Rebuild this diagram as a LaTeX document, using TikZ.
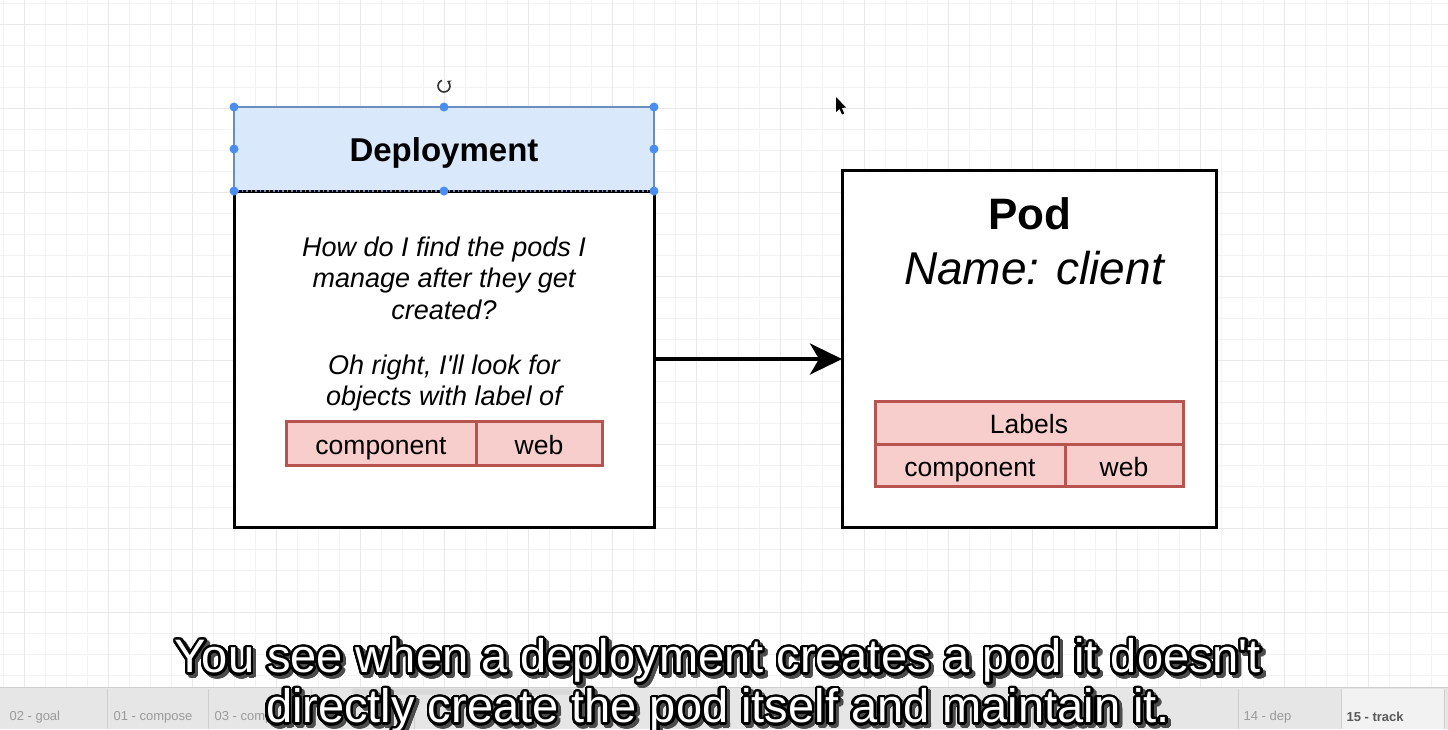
\documentclass[tikz,border=0pt]{standalone}
\usepackage{fontspec}
\setmainfont{Liberation Sans}[Ligatures=TeXOff]
\usepackage{contour}
\contourlength{2.5pt}
\contournumber{32}
\usetikzlibrary{arrows.meta}
\definecolor{gridminor}{HTML}{F3F3F3}
\definecolor{gridmajor}{HTML}{E8E8E8}
\definecolor{hdrfill}{HTML}{DAE8FC}
\definecolor{hdrline}{HTML}{6C8EBF}
\definecolor{handle}{HTML}{4A8EF0}
\definecolor{lblfill}{HTML}{F8CECC}
\definecolor{lblline}{HTML}{B85450}
\definecolor{tabbg}{HTML}{E6E6E6}
\definecolor{tabactive}{HTML}{F2F2F2}
\definecolor{tabtext}{HTML}{9A9A9A}
\definecolor{tabsep}{HTML}{CFCFCF}
\tikzset{
  box/.style={draw=black, line width=3pt, fill=white, inner sep=0pt, outer sep=0pt},
  hdrbox/.style={draw=hdrline, line width=2.5pt, fill=hdrfill, inner sep=0pt, outer sep=0pt,
    text height=26pt, text depth=2pt},
  lblcell/.style={draw=lblline, line width=3pt, fill=lblfill, inner sep=0pt, outer sep=0pt,
    font=\fontsize{26.5}{30}\selectfont, text height=23.5pt, text depth=1pt},
  qtext/.style={align=center, font=\fontsize{27}{31.5}\selectfont\itshape},
  handledot/.style={circle, fill=handle, minimum size=9pt, inner sep=0pt},
  arr/.style={line width=4pt, -{Stealth[length=32pt, width=31pt, inset=9pt]}},
  tablabel/.style={anchor=west, text=tabtext, font=\fontsize{13}{15}\selectfont},
  subt/.style={align=center, text=white, font=\fontsize{47}{50}\selectfont},
}
\begin{document}
\begin{tikzpicture}[x=1pt, y=-1pt]
\useasboundingbox (0,0) rectangle (1448,729);
\fill[white] (0,0) rectangle (1448,729);
% grid
\begin{scope}
\clip (0,0) rectangle (1448,687);
\foreach \k in {0,...,69} {
  \draw[gridminor, line width=1pt] ({3+21*\k},0) -- ({3+21*\k},687);
}
\foreach \k in {0,...,33} {
  \draw[gridminor, line width=1pt] (0,{3+21*\k}) -- (1448,{3+21*\k});
}
\foreach \k in {0,...,17} {
  \draw[gridmajor, line width=1pt] ({24+84*\k},0) -- ({24+84*\k},687);
}
\foreach \k in {0,...,8} {
  \draw[gridmajor, line width=1pt] (0,{24+84*\k}) -- (1448,{24+84*\k});
}
\end{scope}

% Deployment
\node[box, minimum width=420pt, minimum height=336pt] (depbody) at (444,359) {};
\node[hdrbox, minimum width=420pt, minimum height=84pt,
      font=\fontsize{33}{38}\selectfont\bfseries] (dephdr) at (444,149) {Deployment};
\draw[black, line width=2.5pt, dash pattern=on 3pt off 1.5pt]
  (dephdr.south west) -- (dephdr.south east);
\node[qtext] (q1) at (444,278) {How do I find the pods I\\manage after they get\\created?};
\node[qtext] (q2) at (444,383) {Oh right, I'll look for\\objects with label of};
\node[lblcell, minimum width=190pt, minimum height=44pt] (dcomp) at (381,443) {component};
\node[lblcell, minimum width=126pt, minimum height=44pt] (dweb) at (539,443) {web};

% selection handles
\foreach \p [count=\i] in {dephdr.north west, dephdr.north, dephdr.north east,
  dephdr.west, dephdr.east, dephdr.south west, dephdr.south, dephdr.south east} {
  \node[handledot] (h\i) at (\p) {};
}
% rotation icon
\coordinate (rot) at (444,86);
\draw[black!80, line width=1.6pt, -{Stealth[length=4pt,width=5pt]}]
  ([shift={(110:6pt)}]rot) arc[start angle=110, end angle=420, radius=6pt];

% Pod
\node[box, minimum width=374pt, minimum height=357pt] (pod) at (1029,348.5) {};
\node[font=\fontsize{44}{50}\selectfont\bfseries] (podtitle) at (1030,214) {Pod};
\node[font=\fontsize{46}{52}\selectfont\itshape] (podname) at (1034,268) {Name: client};
\node[lblcell, minimum width=308pt, minimum height=43pt] (plabels) at (1029,422.5) {Labels};
\node[lblcell, minimum width=190pt, minimum height=42pt] (pcomp) at (970,465) {component};
\node[lblcell, minimum width=118pt, minimum height=42pt] (pweb) at (1124,465) {web};

% arrow
\draw[arr] (depbody.east) -- (depbody.east -| pod.west);

% mouse cursor
\fill[black] (836,97) -- (836,112) -- (839.5,108.8) -- (842,114.5) -- (844.2,113.5)
  -- (841.8,108) -- (846,107.5) -- cycle;

% tab bar
\fill[tabbg] (0,687) rectangle (1448,729);
\draw[tabsep, line width=1pt] (0,687.5) -- (1448,687.5);
\fill[tabactive] (1341,689) rectangle (1444,729);
\foreach \s in {107,208,311,414,517,620,723,826,929,1032,1135,1238,1341,1444} {
  \draw[tabsep, line width=1pt] (\s,689) -- (\s,729);
}
\fill[black!15, rounded corners=2pt] (352,688.5) rectangle (572,694.5);
\node[tablabel] (t1) at (6,717) {02 - goal};
\node[tablabel] (t2) at (110,717) {01 - compose};
\node[tablabel] (t3) at (211,717) {03 - comp};
\node[tablabel] (t14) at (1240,717) {14 - dep};
\node[tablabel, text=black!65, font=\fontsize{13}{15}\selectfont\bfseries] (t15) at (1343,717) {15 - track};

% subtitle
\node[subt, text=black!70] (subshadow) at (721,690)
  {\contour{black!70}{You see when a deployment creates a pod it doesn't}\\
   \contour{black!70}{directly create the pod itself and maintain it.}};
\node[subt] (subtitle) at (718,687)
  {\contour{black}{You see when a deployment creates a pod it doesn't}\\
   \contour{black}{directly create the pod itself and maintain it.}};
\end{tikzpicture}
\end{document}
